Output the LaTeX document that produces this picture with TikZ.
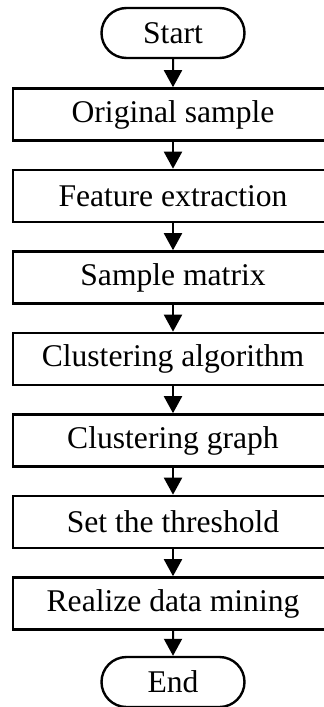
\documentclass[tikz,border=0pt]{standalone}
\usepackage{fontspec}
\setmainfont{Liberation Serif}
\usepackage{tikz}
\usetikzlibrary{arrows.meta, positioning, shapes.misc}

\tikzset{
    terminal/.style={rounded rectangle, draw, line width=1.2pt, minimum width=71.5pt, minimum height=25pt, inner sep=0pt},
    process/.style={rectangle, draw, line width=1.3pt, minimum width=160pt, minimum height=26pt, inner sep=0pt},
    flow/.style={line width=1pt, -{Triangle[length=8.5pt, width=9pt]}}
}

\begin{document}
\begin{tikzpicture}[node distance=40.75pt, font=\fontsize{15.8pt}{19pt}\selectfont]
    \useasboundingbox (0,0) rectangle (162pt,-353.5pt);

    \node (start) [terminal] at (86.5pt,-16.5pt) {Start};
    \node (orig) [process, below of=start] {Original sample};
    \node (feat) [process, below of=orig] {Feature extraction};
    \node (matrix) [process, below of=feat] {Sample matrix};
    \node (algo) [process, below of=matrix] {Clustering algorithm};
    \node (graph) [process, below of=algo] {Clustering graph};
    \node (thresh) [process, below of=graph] {Set the threshold};
    \node (mining) [process, below of=thresh] {Realize data mining};
    \node (end) [terminal, below of=mining, yshift=1.5pt] {End};

    \draw[flow] (start) -- (orig);
    \draw[flow] (orig) -- (feat);
    \draw[flow] (feat) -- (matrix);
    \draw[flow] (matrix) -- (algo);
    \draw[flow] (algo) -- (graph);
    \draw[flow] (graph) -- (thresh);
    \draw[flow] (thresh) -- (mining);
    \draw[flow] (mining) -- (end);
\end{tikzpicture}
\end{document}
